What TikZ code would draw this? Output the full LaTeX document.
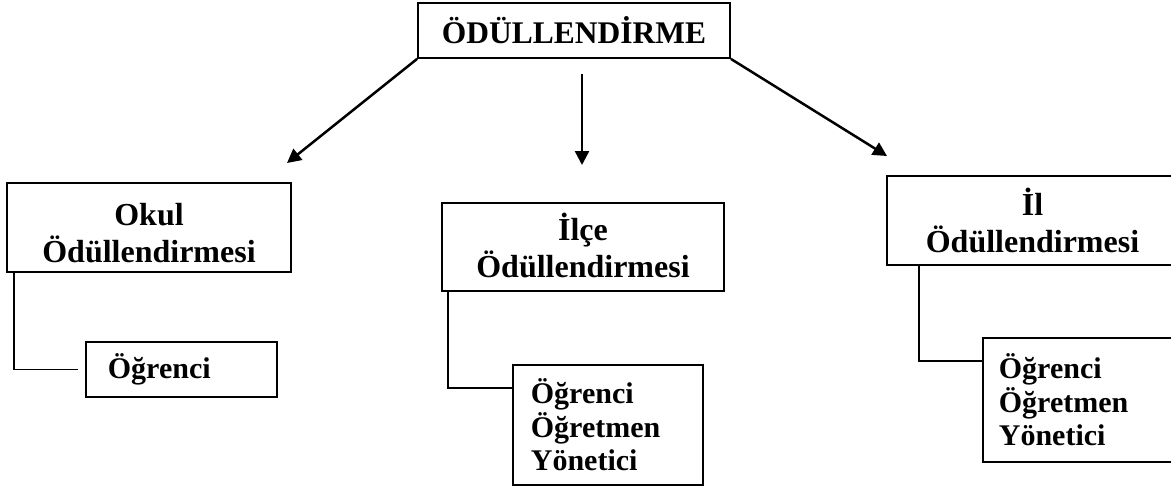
\documentclass[tikz,border=0pt]{standalone}
\usepackage{fontspec}
\setmainfont{Liberation Serif}
\usetikzlibrary{arrows.meta}
\newcommand\linestrut[2]{\rule[-#2]{0pt}{\dimexpr#1+#2\relax}}
\tikzset{
  boxstyle/.style={draw=black, line width=1.8pt, inner sep=0pt, font=\bfseries\fontsize{32}{37}\selectfont},
  titlebox/.style={boxstyle, align=center},
  listbox/.style={boxstyle, align=left, inner xsep=0pt, font=\bfseries\fontsize{30}{33.5}\selectfont},
  arrowline/.style={line width=2.5pt, -{Triangle[length=14pt,width=14pt]}},
  elbow/.style={line width=1.6pt}
}
\begin{document}
\begin{tikzpicture}[x=1pt,y=-1pt]
\useasboundingbox (0,0) rectangle (1171,491);
% top
\node[boxstyle, minimum width=312, minimum height=55, font=\bfseries\fontsize{31.5}{37}\selectfont] (top) at (574,30.5) {ÖDÜLLENDİRME};
% level 2
\node[titlebox, minimum width=284, minimum height=89] (okul) at (149,227.5)
  {\linestrut{34.5pt}{2.5pt}Okul\\\linestrut{34.5pt}{2.5pt}Ödüllendirmesi};
\node[titlebox, minimum width=282, minimum height=88] (ilce) at (583,247)
  {\linestrut{30pt}{7pt}İlçe\\\linestrut{30pt}{7pt}Ödüllendirmesi};
\node[titlebox, minimum width=291, minimum height=89] (il) at (1032.5,220.5)
  {\linestrut{31.5pt}{5.5pt}İl\\\linestrut{31.5pt}{5.5pt}Ödüllendirmesi};
% level 3
\node[listbox, minimum width=191, minimum height=55, anchor=west, text width=191] (ogr1) at (85,369.5) {\hspace*{22pt}Öğrenci};
\node[listbox, minimum width=190, minimum height=120, anchor=west, text width=190] (ogr2) at (512,425) {\hspace*{18pt}Öğrenci\\\hspace*{18pt}Öğretmen\\\hspace*{18pt}Yönetici};
\node[listbox, minimum width=196, minimum height=124, anchor=west, text width=196] (ogr3) at (982,400) {\hspace*{16pt}Öğrenci\\\hspace*{16pt}Öğretmen\\\hspace*{16pt}Yönetici};
% arrow ends
\coordinate (mS) at (582,74);
\coordinate (aL) at (287,163);
\coordinate (aM) at (582,165);
\coordinate (aR) at (887,156);
\draw[arrowline] (top.south west) -- (aL);
\draw[arrowline] (mS) -- (aM);
\draw[arrowline] (top.south east) -- (aR);
% elbow connectors
\draw[elbow] ([xshift=8pt]okul.south west) |- ([xshift=-7pt]ogr1.west);
\draw[elbow] ([xshift=7pt]ilce.south west) |- ([yshift=37pt]ogr2.west);
\draw[elbow] ([xshift=33pt]il.south west) |- ([yshift=39pt]ogr3.west);
\end{tikzpicture}
\end{document}
